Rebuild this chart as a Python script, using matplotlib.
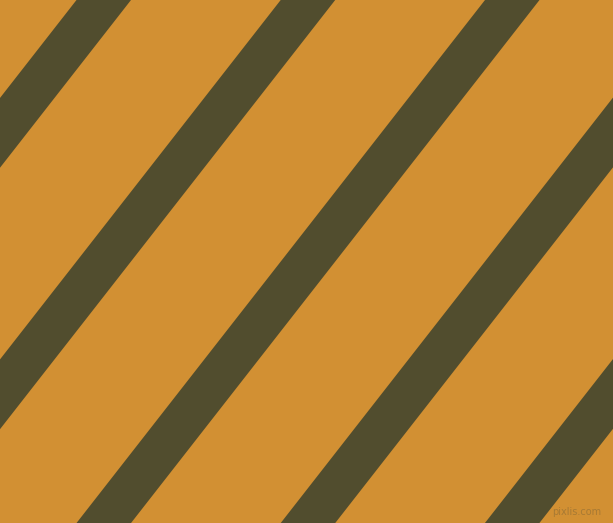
import matplotlib
matplotlib.use('Agg')
from matplotlib import pyplot as plt

# pattern: diagonal dark stripes over orange background
W, H = 613, 523
bg_color = '#D29033'
stripe_color = '#514D2E'

# x of each stripe's left edge where it meets the top border (y=0)
stripe_left_top = [-128.0, 76.5, 280.7, 485.0, 689.2, 893.4]
stripe_width = 54.5      # horizontal width of a stripe
shift_per_px = 0.781     # x moves left this much for each px down

fig = plt.figure(figsize=(W / 100, H / 100), dpi=100)
ax = fig.add_axes([0, 0, 1, 1])
ax.set_xlim(0, W)
ax.set_ylim(H, 0)
ax.set_facecolor(bg_color)
ax.axis('off')
fig.patch.set_facecolor(bg_color)

for x0 in stripe_left_top:
    xb = x0 - shift_per_px * H
    xs = [x0, x0 + stripe_width, xb + stripe_width, xb]
    ys = [0, 0, H, H]
    ax.fill(xs, ys, color=stripe_color, lw=0, antialiased=True)

ax.text(W - 12, H - 11, 'pixlis.com', ha='right', va='center', fontsize=7,
        color='#a87a33')

fig.savefig('out.png', dpi=100, facecolor=bg_color)
